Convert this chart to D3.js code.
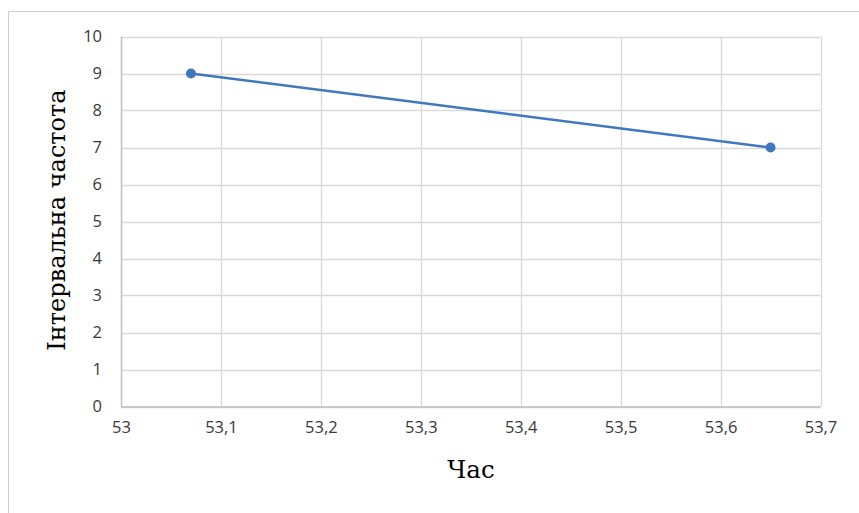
<!DOCTYPE html>
<html>
<head>
<meta charset="utf-8">
<script src="https://cdn.jsdelivr.net/npm/d3@7"></script>
<style>
  html, body { margin: 0; padding: 0; background: #fff; }
  svg { display: block; }
</style>
</head>
<body>
<svg id="chart" width="859" height="513"></svg>
<script>
// Interval frequency over time
const times = [53.07, 53.65];
const frequencies = [9, 7];
const xTicks = [53, 53.1, 53.2, 53.3, 53.4, 53.5, 53.6, 53.7];
const yTicks = [0, 1, 2, 3, 4, 5, 6, 7, 8, 9, 10];
const xTitle = "Час";
const yTitle = "Інтервальна частота";

const svg = d3.select("#chart");
const W = 859, H = 513;
const plot = { left: 121, top: 36.5, right: 820.5, bottom: 406.5 };

// outer chart frame
svg.append("path")
  .attr("d", `M8.5,${H} V11.5 H${W}`)
  .attr("fill", "none")
  .attr("stroke", "#d0d0d0")
  .attr("stroke-width", 1);

const x = d3.scaleLinear().domain([53, 53.7]).range([plot.left, plot.right]);
const y = d3.scaleLinear().domain([0, 10]).range([plot.bottom, plot.top]);

const fmt = d => d3.format(".1~f")(d).replace(".", ",");

// gridlines
const grid = svg.append("g");
grid.selectAll("line.v").data(xTicks).join("line")
  .attr("x1", d => Math.round(x(d)) + 0.5).attr("x2", d => Math.round(x(d)) + 0.5)
  .attr("y1", plot.top).attr("y2", plot.bottom)
  .attr("stroke", "#d9d9d9").attr("stroke-width", 1.3);
grid.selectAll("line.h").data(yTicks).join("line")
  .attr("y1", d => Math.round(y(d)) + 0.5).attr("y2", d => Math.round(y(d)) + 0.5)
  .attr("x1", plot.left).attr("x2", plot.right)
  .attr("stroke", "#d9d9d9").attr("stroke-width", 1.3);

// axis lines (left and bottom)
svg.append("path")
  .attr("d", `M${plot.left + 0.5},${plot.top} V${plot.bottom + 0.5} H${plot.right}`)
  .attr("fill", "none").attr("stroke", "#bfbfbf").attr("stroke-width", 1.3);

const tickFont = "'Open Sans', sans-serif";

// y axis labels
const yAxis = d3.axisLeft(y).tickValues(yTicks).tickSize(0).tickPadding(19).tickFormat(d => d);
svg.append("g").attr("transform", `translate(${plot.left},0)`).call(yAxis)
  .call(g => g.select(".domain").remove())
  .call(g => g.selectAll("text")
    .attr("font-family", tickFont).attr("font-size", 16.5).attr("fill", "#3a3a3a"));

// x axis labels
const xAxis = d3.axisBottom(x).tickValues(xTicks).tickSize(0).tickPadding(15).tickFormat(fmt);
svg.append("g").attr("transform", `translate(0,${plot.bottom})`).call(xAxis)
  .call(g => g.select(".domain").remove())
  .call(g => g.selectAll("text")
    .attr("font-family", tickFont).attr("font-size", 16.5).attr("fill", "#3a3a3a"));

// series line and markers
const pts = times.map((t, i) => [t, frequencies[i]]);
svg.append("path")
  .datum(pts)
  .attr("d", d3.line().x(d => x(d[0])).y(d => y(d[1])))
  .attr("fill", "none").attr("stroke", "#3f78bf").attr("stroke-width", 2.5);
svg.selectAll("circle.pt").data(pts).join("circle")
  .attr("cx", d => x(d[0])).attr("cy", d => y(d[1])).attr("r", 5)
  .attr("fill", "#3f78bf");

// axis titles
svg.append("text")
  .attr("x", 471).attr("y", 478)
  .attr("text-anchor", "middle")
  .attr("font-family", "'DejaVu Serif', serif").attr("font-size", 24.5).attr("fill", "#000")
  .text(xTitle);
svg.append("text")
  .attr("transform", `translate(65,220) rotate(-90)`)
  .attr("text-anchor", "middle")
  .attr("font-family", "'DejaVu Serif', serif").attr("font-size", 24).attr("fill", "#000")
  .text(yTitle);
</script>
</body>
</html>
